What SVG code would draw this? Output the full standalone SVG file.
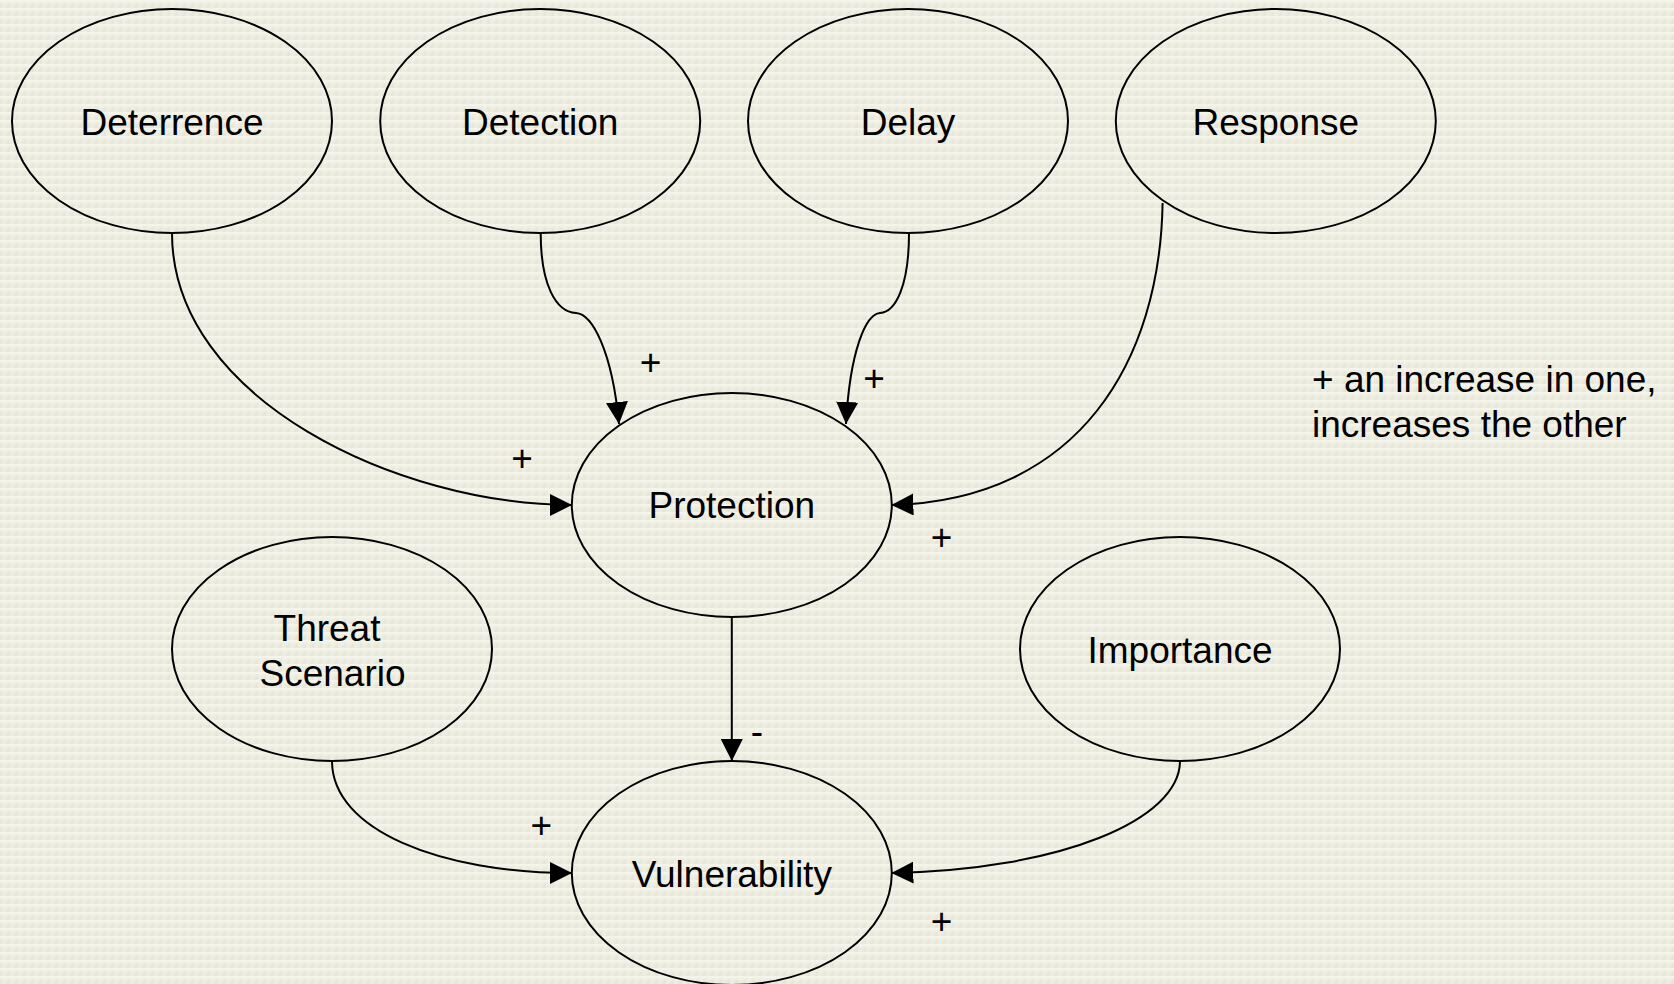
<svg xmlns="http://www.w3.org/2000/svg" width="1674" height="984" viewBox="0 0 1674 984">
  <defs>
    <style>
      .node ellipse { fill: none; stroke: #000; stroke-width: 2; }
      .label { font-family: "Liberation Sans", Arial, sans-serif; font-size: 37px; fill: #000; text-anchor: middle; }
      .sign { font-family: "Liberation Sans", Arial, sans-serif; font-size: 37px; fill: #000; text-anchor: middle; }
      .note { font-family: "Liberation Sans", Arial, sans-serif; font-size: 37px; fill: #000; }
      .edge { fill: none; stroke: #000; stroke-width: 2; marker-end: url(#arrow); }
    </style>
    <marker id="arrow" markerUnits="userSpaceOnUse" markerWidth="22" markerHeight="22" viewBox="0 0 20 20" refX="20" refY="10" orient="auto">
      <path d="M0,0 L20,10 L0,20 z" fill="#000"/>
    </marker>
    <!-- linen-like canvas weave -->
    <pattern id="weave" width="8" height="8" patternUnits="userSpaceOnUse">
      <rect width="8" height="8" fill="#EDEDE1"/>
      <rect x="0" y="0" width="8" height="2" fill="#F4F4EA"/>
      <rect x="0" y="4" width="2" height="4" fill="#E6E6D9"/>
      <rect x="4" y="2" width="2" height="2" fill="#F2F2E7"/>
      <rect x="6" y="5" width="2" height="3" fill="#E8E8DB"/>
    </pattern>
  </defs>

  <rect width="1674" height="984" fill="url(#weave)"/>

  <!-- connectors -->
  <g id="connectors">
    <path class="edge" d="M172,233 C172,400 400,505 572,505"/>
    <path class="edge" d="M540.7,233 C540.7,285 556,312 576,313 C592,314 612,350 619,424"/>
    <path class="edge" d="M909,233 C909,285 896,312 880,313 C866,314 850,350 846,424"/>
    <path class="edge" d="M1162.6,203 C1160,360 1080,500 891.4,505"/>
    <path class="edge" d="M731.8,617 L731.8,761"/>
    <path class="edge" d="M332,761 C332,830 440,873 572,873"/>
    <path class="edge" d="M1180,761 C1180,820 1060,870 891.4,873"/>
  </g>

  <!-- polarity signs -->
  <g id="signs">
    <text class="sign" x="650.5" y="375">+</text>
    <text class="sign" x="874" y="391">+</text>
    <text class="sign" x="522" y="471">+</text>
    <text class="sign" x="941.6" y="550">+</text>
    <text class="sign" x="757" y="744">-</text>
    <text class="sign" x="541.3" y="838">+</text>
    <text class="sign" x="941.6" y="934">+</text>
  </g>

  <!-- nodes -->
  <g id="deterrence" class="node">
    <ellipse cx="172" cy="121" rx="160" ry="112"/>
    <text class="label" x="172" y="134.5">Deterrence</text>
  </g>
  <g id="detection" class="node">
    <ellipse cx="540.2" cy="121" rx="160" ry="112"/>
    <text class="label" x="540.2" y="134.5">Detection</text>
  </g>
  <g id="delay" class="node">
    <ellipse cx="908" cy="121" rx="160" ry="112"/>
    <text class="label" x="908" y="134.5">Delay</text>
  </g>
  <g id="response" class="node">
    <ellipse cx="1275.8" cy="121" rx="160" ry="112"/>
    <text class="label" x="1275.8" y="134.5">Response</text>
  </g>
  <g id="protection" class="node">
    <ellipse cx="731.8" cy="505" rx="160" ry="112"/>
    <text class="label" x="731.8" y="518.3">Protection</text>
  </g>
  <g id="threat-scenario" class="node">
    <ellipse cx="332" cy="649" rx="160" ry="112"/>
    <text class="label" x="327" y="641">Threat</text>
    <text class="label" x="332.5" y="685.5">Scenario</text>
  </g>
  <g id="importance" class="node">
    <ellipse cx="1180" cy="649" rx="160" ry="112"/>
    <text class="label" x="1180" y="663">Importance</text>
  </g>
  <g id="vulnerability" class="node">
    <ellipse cx="731.8" cy="873" rx="160" ry="112"/>
    <text class="label" x="731.8" y="886.5">Vulnerability</text>
  </g>

  <!-- legend -->
  <g id="legend">
    <text class="note" x="1312" y="392">+ an increase in one,</text>
    <text class="note" x="1312" y="436.5">increases the other</text>
  </g>
</svg>
